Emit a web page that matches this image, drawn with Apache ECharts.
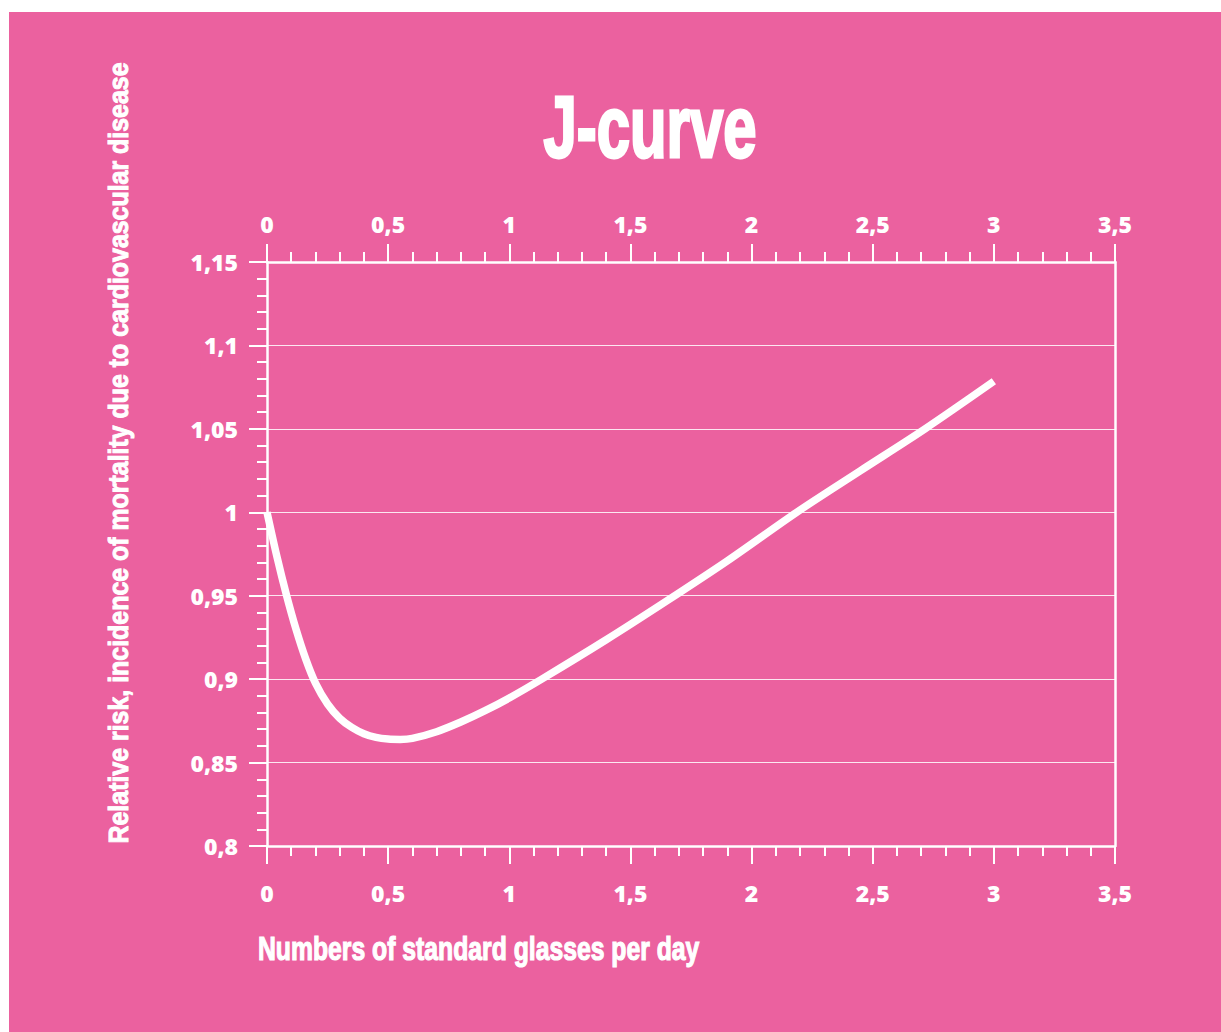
<!DOCTYPE html>
<html>
<head>
<meta charset="utf-8">
<script src="https://cdn.jsdelivr.net/npm/echarts@6/dist/echarts.min.js"></script>
<style>
  html, body { margin: 0; padding: 0; background: #ffffff; width: 1221px; height: 1032px; overflow: hidden; }
  #chart { position: absolute; left: 9px; top: 12px; width: 1212px; height: 1020px; }
</style>
</head>
<body>
<div id="chart"></div>
<script>
// ---- data ----
const chartTitle = 'J-curve';
const xAxisTitle = 'Numbers of standard glasses per day';
const yAxisTitle = 'Relative risk, incidence of mortality due to cardiovascular disease';
const glasses = [0, 0.04, 0.08, 0.12, 0.16, 0.2, 0.25, 0.3, 0.35, 0.4, 0.45, 0.5, 0.55, 0.6, 0.7, 0.8, 0.9, 1.0, 1.134, 1.4, 1.65, 1.9, 2.186, 2.45, 2.716, 3.0];
const relativeRisk = [1.0, 0.974, 0.9506, 0.9298, 0.912, 0.8976, 0.8851, 0.8766, 0.8711, 0.8673, 0.8651, 0.8641, 0.8639, 0.8645, 0.8685, 0.8743, 0.8811, 0.8887, 0.9, 0.9236, 0.9469, 0.9709, 1.0, 1.025, 1.05, 1.0785];
const xMin = 0, xMax = 3.5, xStep = 0.5;
const yMin = 0.8, yMax = 1.15, yStep = 0.05;

const PINK = '#EB619F';
const WHITE = '#ffffff';
const labelFont = { color: WHITE, fontFamily: '"Open Sans", Lato, sans-serif', fontWeight: 800, fontSize: 23 };
const titleFont = '"Liberation Sans", Arial, sans-serif';
const fmt = v => String(parseFloat(Number(v).toFixed(2))).replace('.', ',');

const chart = echarts.init(document.getElementById('chart'), null, { renderer: 'svg' });

function xAxisDef(pos, margin) {
  return {
    type: 'value', position: pos, min: xMin, max: xMax, interval: xStep,
    axisLine: { show: true, onZero: false, lineStyle: { color: WHITE, width: 2.5 } },
    axisTick: { show: true, length: 18, lineStyle: { color: WHITE, width: 2 } },
    minorTick: { show: true, splitNumber: 5, length: 10, lineStyle: { color: WHITE, width: 2 } },
    axisLabel: Object.assign({ margin: margin, formatter: fmt }, labelFont),
    splitLine: { show: false }
  };
}

const option = {
  backgroundColor: PINK,
  animation: false,
  grid: { left: 258, top: 250, right: 106, bottom: 186 },
  graphic: [
    { type: 'text', x: 641, y: 115, scaleX: 0.68, style: { text: chartTitle, fill: WHITE, stroke: WHITE, lineWidth: 3, font: 'bold 88px ' + titleFont, textAlign: 'center', textVerticalAlign: 'middle' } },
    { type: 'text', x: 249, y: 937, scaleX: 0.75, style: { text: xAxisTitle, fill: WHITE, stroke: WHITE, lineWidth: 1.2, font: 'bold 33px ' + titleFont, textAlign: 'left', textVerticalAlign: 'middle' } },
    { type: 'text', x: 109, y: 441, rotation: Math.PI / 2, scaleX: 0.89, style: { text: yAxisTitle, fill: WHITE, stroke: WHITE, lineWidth: 1, font: 'bold 28px ' + titleFont, textAlign: 'center', textVerticalAlign: 'middle' } }
  ],
  xAxis: [xAxisDef('bottom', 35), xAxisDef('top', 27)],
  yAxis: [
    {
      type: 'value', position: 'left', min: yMin, max: yMax, interval: yStep,
      axisLine: { show: true, onZero: false, lineStyle: { color: WHITE, width: 2.5 } },
      axisTick: { show: true, length: 18, lineStyle: { color: WHITE, width: 2 } },
      minorTick: { show: true, splitNumber: 5, length: 10, lineStyle: { color: WHITE, width: 2 } },
      axisLabel: Object.assign({ margin: 29, formatter: fmt }, labelFont),
      splitLine: { show: true, lineStyle: { color: 'rgba(255,255,255,0.85)', width: 1.2 } }
    },
    {
      type: 'value', position: 'right', min: yMin, max: yMax, interval: yStep,
      axisLine: { show: true, onZero: false, lineStyle: { color: WHITE, width: 2.5 } },
      axisTick: { show: false }, axisLabel: { show: false }, splitLine: { show: false }
    }
  ],
  series: [{
    type: 'line', xAxisIndex: 0, yAxisIndex: 0,
    data: glasses.map((g, i) => [g, relativeRisk[i]]),
    smooth: 0.3, showSymbol: false, symbol: 'none',
    lineStyle: { color: WHITE, width: 7.5, cap: 'butt' }
  }]
};
chart.setOption(option);
</script>
</body>
</html>
